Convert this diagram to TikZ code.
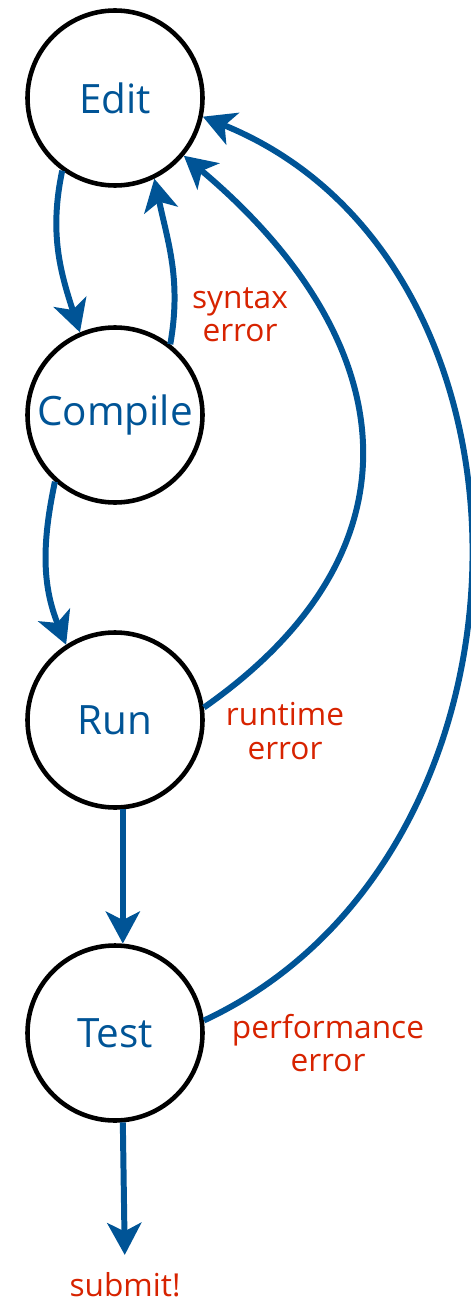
\documentclass[tikz,border=0pt]{standalone}
\usepackage{fontspec}
\setmainfont{Open Sans}
\usetikzlibrary{arrows.meta}
\definecolor{flowblue}{RGB}{0,84,150}
\definecolor{errred}{RGB}{215,35,0}
\tikzset{
  stage/.style={draw=black,line width=2.6pt,circle,minimum size=3.5cm,inner sep=0pt,
    text=flowblue,font=\fontsize{23}{26}\selectfont},
  flow/.style={draw=flowblue,line width=3.4pt,-{Stealth[length=6.4mm,width=6.8mm,inset=1.7mm]}},
  errlabel/.style={text=errred,align=center,font=\fontsize{18}{19}\selectfont,inner sep=0pt}
}
\begin{document}
\begin{tikzpicture}
\useasboundingbox (0,0) rectangle (9.4,-26.1);
\foreach \y/\t in {1.96/Edit,8.3/Compile,14.4/Run,20.66/Test} {
  \node[stage] (\t) at (2.3,-\y) {\t};
}
\node[errlabel] (syntax) at (4.8,-6.3) {syntax\\error};
\node[errlabel] (runtime) at (5.7,-14.62) {runtime\\error};
\node[errlabel] (perf) at (6.56,-20.86) {performance\\error};
\node[errlabel] (submit) at (2.5,-25.7) {submit!};
\draw[flow] (Edit.234) to[out=258,in=108] (Compile.113);
\draw[flow] (Compile.52) to[out=80,in=-78] (Edit.296);
\draw[flow] (Compile.228) to[out=258,in=112] (Run.123);
\draw[flow] (Run.8) to[out=35,in=-40,looseness=1.3] (Edit.320);
\draw[flow] (Run.-85) -- (Test.85);
\draw[flow] (Test.8) to[out=25,in=-22,looseness=1.1] (Edit.348);
\draw[flow,shorten >=0.35cm] (Test.-85) -- (submit.north);
\end{tikzpicture}
\end{document}
